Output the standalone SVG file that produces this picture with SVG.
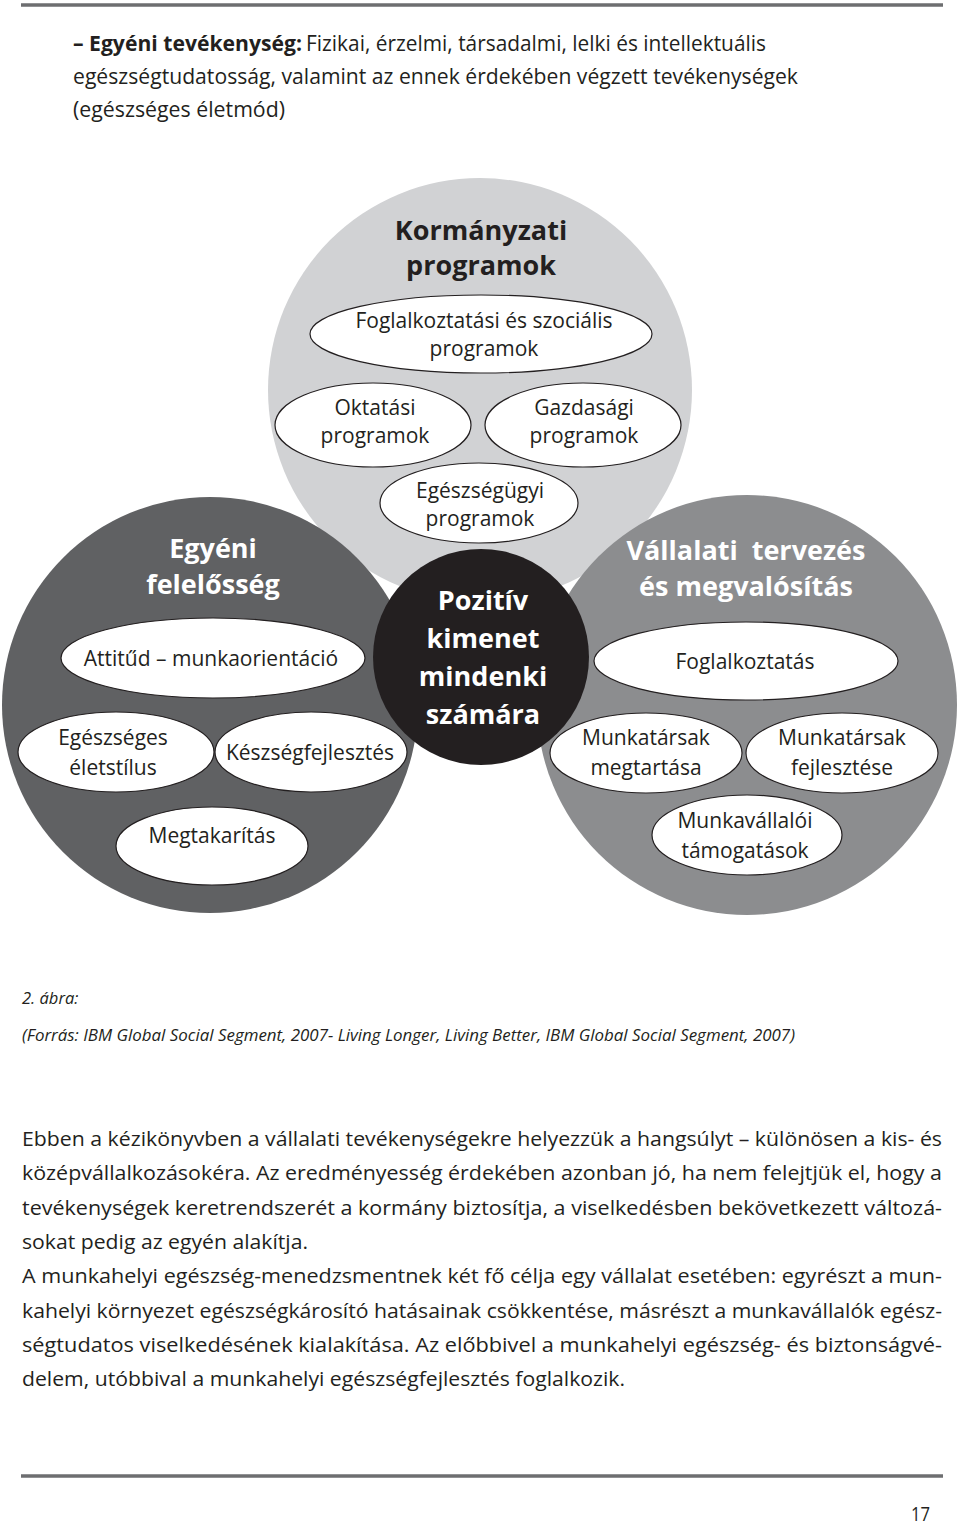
<svg xmlns="http://www.w3.org/2000/svg" width="960" height="1525" viewBox="0 0 960 1525">
<style>
  .t{font-family:"Open Sans","Liberation Sans",sans-serif;fill:#231f20;}
  .lbl{font-family:"Open Sans","Liberation Sans",sans-serif;font-size:21px;fill:#231f20;text-anchor:middle;}
  .ttl{font-family:"Open Sans","Liberation Sans",sans-serif;font-size:27px;font-weight:bold;text-anchor:middle;}
  .el{fill:#ffffff;stroke:#231f20;stroke-width:1.2;}
  .rule{stroke:#6d6e70;stroke-width:3.5;}
  .body{font-family:"Open Sans","Liberation Sans",sans-serif;font-size:19.5px;fill:#231f20;}
  .cap{font-family:"Open Sans","Liberation Sans",sans-serif;font-size:16.5px;font-style:italic;fill:#231f20;}
</style>
<rect width="960" height="1525" fill="#ffffff"/>
<line class="rule" x1="21" y1="5" x2="943" y2="5"/>
<line class="rule" x1="21" y1="1476" x2="943" y2="1476"/>

<g id="intro">
  <text class="t" x="73" y="51" font-size="21" font-weight="bold" textLength="229" lengthAdjust="spacingAndGlyphs">– Egyéni tevékenység:</text>
  <text class="t" x="306" y="51" font-size="21" textLength="460" lengthAdjust="spacingAndGlyphs">Fizikai, érzelmi, társadalmi, lelki és intellektuális</text>
  <text class="t" x="73" y="84" font-size="21" textLength="725" lengthAdjust="spacingAndGlyphs">egészségtudatosság, valamint az ennek érdekében végzett tevékenységek</text>
  <text class="t" x="73" y="117" font-size="21" textLength="212" lengthAdjust="spacingAndGlyphs">(egészséges életmód)</text>
</g>

<g id="circles">
  <circle id="circle-kormanyzati" cx="480" cy="390" r="212" fill="#d1d2d4"/>
  <circle id="circle-egyeni" cx="210" cy="705" r="208" fill="#606163"/>
  <circle id="circle-vallalati" cx="747" cy="705" r="210" fill="#8c8d8f"/>
</g>

<g id="node-kormanyzati-title">
  <text class="ttl" fill="#231f20" x="481" y="240">Kormányzati</text>
  <text class="ttl" fill="#231f20" x="481" y="275">programok</text>
</g>
<g id="node-foglalkoztatasi-szocialis">
  <ellipse class="el" cx="481" cy="334" rx="171" ry="39"/>
  <text class="lbl" x="484" y="328">Foglalkoztatási és szociális</text>
  <text class="lbl" x="484" y="356">programok</text>
</g>
<g id="node-oktatasi">
  <ellipse class="el" cx="373" cy="425" rx="98" ry="42"/>
  <text class="lbl" x="375" y="415">Oktatási</text>
  <text class="lbl" x="375" y="443">programok</text>
</g>
<g id="node-gazdasagi">
  <ellipse class="el" cx="583" cy="425" rx="98" ry="42"/>
  <text class="lbl" x="584" y="415">Gazdasági</text>
  <text class="lbl" x="584" y="443">programok</text>
</g>
<g id="node-egeszsegugyi">
  <ellipse class="el" cx="479" cy="503" rx="99" ry="40"/>
  <text class="lbl" x="480" y="498">Egészségügyi</text>
  <text class="lbl" x="480" y="526">programok</text>
</g>

<g id="node-egyeni-title">
  <text class="ttl" fill="#ffffff" x="213" y="558">Egyéni</text>
  <text class="ttl" fill="#ffffff" x="213" y="594">felelősség</text>
</g>
<g id="node-attitud">
  <ellipse class="el" cx="213" cy="658" rx="152" ry="40"/>
  <text class="lbl" x="211" y="666">Attitűd – munkaorientáció</text>
</g>
<g id="node-eletstilus">
  <ellipse class="el" cx="116" cy="752" rx="98" ry="40"/>
  <text class="lbl" x="113" y="745">Egészséges</text>
  <text class="lbl" x="113" y="775">életstílus</text>
</g>
<g id="node-keszsegfejlesztes">
  <ellipse class="el" cx="311" cy="752" rx="96" ry="40"/>
  <text class="lbl" x="310" y="760">Készségfejlesztés</text>
</g>
<g id="node-megtakaritas">
  <ellipse class="el" cx="212" cy="846" rx="96" ry="39"/>
  <text class="lbl" x="212" y="843">Megtakarítás</text>
</g>

<g id="node-vallalati-title">
  <text class="ttl" fill="#ffffff" x="746" y="560" xml:space="preserve">Vállalati  tervezés</text>
  <text class="ttl" fill="#ffffff" x="746" y="596">és megvalósítás</text>
</g>
<g id="node-foglalkoztatas">
  <ellipse class="el" cx="746" cy="661" rx="152" ry="39"/>
  <text class="lbl" x="745" y="669">Foglalkoztatás</text>
</g>
<g id="node-megtartasa">
  <ellipse class="el" cx="646" cy="753" rx="96" ry="40"/>
  <text class="lbl" x="646" y="745">Munkatársak</text>
  <text class="lbl" x="646" y="775">megtartása</text>
</g>
<g id="node-fejlesztese">
  <ellipse class="el" cx="842" cy="753" rx="96" ry="40"/>
  <text class="lbl" x="842" y="745">Munkatársak</text>
  <text class="lbl" x="842" y="775">fejlesztése</text>
</g>
<g id="node-tamogatasok">
  <ellipse class="el" cx="747" cy="835" rx="95" ry="40"/>
  <text class="lbl" x="745" y="828">Munkavállalói</text>
  <text class="lbl" x="745" y="858">támogatások</text>
</g>

<g id="node-pozitiv">
  <circle cx="481" cy="657" r="108" fill="#231f20"/>
  <text class="ttl" fill="#ffffff" x="483" y="610">Pozitív</text>
  <text class="ttl" fill="#ffffff" x="483" y="648">kimenet</text>
  <text class="ttl" fill="#ffffff" x="483" y="686">mindenki</text>
  <text class="ttl" fill="#ffffff" x="483" y="724">számára</text>
</g>

<g id="connectors"></g>

<g id="caption">
  <text class="cap" x="22" y="1004">2. ábra:</text>
  <text class="cap" x="22" y="1041" textLength="773" lengthAdjust="spacingAndGlyphs">(Forrás: IBM Global Social Segment, 2007- Living Longer, Living Better, IBM Global Social Segment, 2007)</text>
</g>

<g id="body-text">
  <text class="body" x="22" y="1146" textLength="920" lengthAdjust="spacingAndGlyphs">Ebben a kézikönyvben a vállalati tevékenységekre helyezzük a hangsúlyt – különösen a kis- és</text>
  <text class="body" x="22" y="1180" textLength="920" lengthAdjust="spacingAndGlyphs">középvállalkozásokéra. Az eredményesség érdekében azonban jó, ha nem felejtjük el, hogy a</text>
  <text class="body" x="22" y="1214.5" textLength="920" lengthAdjust="spacingAndGlyphs">tevékenységek keretrendszerét a kormány biztosítja, a viselkedésben bekövetkezett változá-</text>
  <text class="body" x="22" y="1249" textLength="286" lengthAdjust="spacingAndGlyphs">sokat pedig az egyén alakítja.</text>
  <text class="body" x="22" y="1283" textLength="920" lengthAdjust="spacingAndGlyphs">A munkahelyi egészség-menedzsmentnek két fő célja egy vállalat esetében: egyrészt a mun-</text>
  <text class="body" x="22" y="1317.5" textLength="920" lengthAdjust="spacingAndGlyphs">kahelyi környezet egészségkárosító hatásainak csökkentése, másrészt a munkavállalók egész-</text>
  <text class="body" x="22" y="1352" textLength="920" lengthAdjust="spacingAndGlyphs">ségtudatos viselkedésének kialakítása. Az előbbivel a munkahelyi egészség- és biztonságvé-</text>
  <text class="body" x="22" y="1386" textLength="603" lengthAdjust="spacingAndGlyphs">delem, utóbbival a munkahelyi egészségfejlesztés foglalkozik.</text>
</g>

<text class="t" x="930" y="1521" font-size="20" text-anchor="end" textLength="19" lengthAdjust="spacingAndGlyphs">17</text>
</svg>
